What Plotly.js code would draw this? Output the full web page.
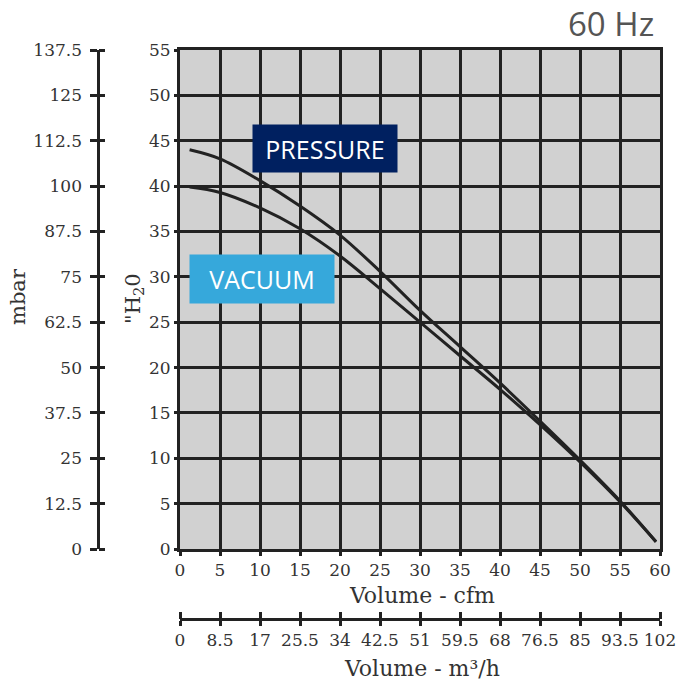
<!DOCTYPE html>
<html>
<head>
<meta charset="utf-8">
<script src="https://cdn.plot.ly/plotly-3.0.1.min.js"></script>
<style>html,body{margin:0;padding:0;background:#fff;}</style>
</head>
<body>
<div id="chart" style="width:678px;height:684px;"></div>
<script>
// Data
const flowCfm = [1.2, 5, 10, 15, 20, 25, 30, 35, 40, 45, 50, 55, 59.5];
const pressureInH2O = [44.0, 43.0, 40.6, 37.8, 34.6, 30.6, 26.3, 22.3, 18.3, 14.1, 9.8, 5.3, 0.8];
const vacuumInH2O = [39.9, 39.3, 37.6, 35.3, 32.3, 28.7, 25.0, 21.3, 17.6, 13.7, 9.6, 5.2, 0.8];

const cfmTicks = [0, 5, 10, 15, 20, 25, 30, 35, 40, 45, 50, 55, 60];
const h2oTicks = [0, 5, 10, 15, 20, 25, 30, 35, 40, 45, 50, 55];
const mbarTicks = [0, 12.5, 25, 37.5, 50, 62.5, 75, 87.5, 100, 112.5, 125, 137.5];
const m3hTicks = [0, 8.5, 17, 25.5, 34, 42.5, 51, 59.5, 68, 76.5, 85, 93.5, 102];

const seriesNames = ['PRESSURE', 'VACUUM'];
const freqLabel = '60 Hz';

const ink = '#222222';
const serif = 'DejaVu Serif';
const tickFont = () => ({family: serif, size: 17, color: '#333333'});

const curve = (y, name) => ({
  x: flowCfm, y: y, name: name, type: 'scatter', mode: 'lines',
  line: {color: ink, width: 3, shape: 'spline', smoothing: 1},
  hoverinfo: 'skip', showlegend: false, xaxis: 'x', yaxis: 'y'
});
const dummy = (xa, ya) => ({x: [null], y: [null], type: 'scatter', mode: 'markers',
  xaxis: xa, yaxis: ya, showlegend: false, hoverinfo: 'skip'});

const traces = [
  curve(pressureInH2O, seriesNames[0]),
  curve(vacuumInH2O, seriesNames[1]),
  dummy('x2', 'y'), dummy('x3', 'y'), dummy('x', 'y2'), dummy('x', 'y3'), dummy('x', 'y4')
];

const W = 660, H = 634; // plot area in px (margin l=0, r=18, t=50, b=0)
const px = v => v / W;
const py = v => (684 - v) / H;

const xDom = [px(180), 1];
const yDom = [py(549), 1];

const bareY = (side, len, line) => ({
  overlaying: 'y', anchor: 'free', position: px(98), side: side,
  range: [0, 137.5], tickvals: mbarTicks, showticklabels: false,
  showgrid: false, zeroline: false, showline: line, linecolor: ink, linewidth: 3,
  ticks: 'outside', ticklen: len, tickwidth: 3, tickcolor: ink, fixedrange: true
});

const layout = {
  width: 678, height: 684,
  margin: {l: 0, r: 18, t: 50, b: 0, pad: 0},
  paper_bgcolor: '#ffffff',
  plot_bgcolor: '#d1d1d1',
  showlegend: false,
  xaxis: {
    domain: xDom, range: [0, 60], tickvals: cfmTicks, ticktext: cfmTicks.map(String),
    showgrid: true, gridcolor: ink, gridwidth: 3, zeroline: false,
    showline: true, linecolor: ink, linewidth: 3, mirror: true,
    ticks: 'outside', ticklen: 4, tickwidth: 3, tickcolor: ink,
    tickfont: tickFont(), fixedrange: true
  },
  yaxis: {
    domain: yDom, range: [0, 55], tickvals: h2oTicks, ticktext: h2oTicks.map(String),
    showgrid: true, gridcolor: ink, gridwidth: 3, zeroline: false,
    showline: true, linecolor: ink, linewidth: 3, mirror: true,
    ticks: 'outside', ticklen: 3, tickwidth: 3, tickcolor: ink,
    tickfont: tickFont(), fixedrange: true
  },
  yaxis2: {
    overlaying: 'y', anchor: 'free', position: px(82), side: 'left',
    range: [0, 137.5], tickvals: mbarTicks, ticktext: mbarTicks.map(String),
    showgrid: false, zeroline: false, showline: false,
    ticks: '', tickfont: tickFont(), fixedrange: true
  },
  yaxis3: bareY('right', 6, false),
  yaxis4: bareY('left', 7, true),
  xaxis2: {
    overlaying: 'x', anchor: 'free', position: py(619), side: 'bottom',
    range: [0, 102], tickvals: m3hTicks, ticktext: m3hTicks.map(String),
    showgrid: false, zeroline: false, showline: true, linecolor: ink, linewidth: 3,
    ticks: 'outside', ticklen: 5, tickwidth: 3, tickcolor: ink,
    tickfont: tickFont(), fixedrange: true
  },
  xaxis3: {
    overlaying: 'x', anchor: 'free', position: py(619), side: 'top',
    range: [0, 102], tickvals: m3hTicks, showticklabels: false,
    showgrid: false, zeroline: false, showline: false,
    ticks: 'outside', ticklen: 7, tickwidth: 3, tickcolor: ink, fixedrange: true
  },
  annotations: [
    {text: 'mbar', xref: 'paper', yref: 'paper', x: px(18), y: py(297), textangle: -90,
     showarrow: false, font: {family: serif, size: 21, color: '#333333'}, xanchor: 'center', yanchor: 'middle'},
    {text: '"H<sub>2</sub>0', xref: 'paper', yref: 'paper', x: px(134), y: py(299), textangle: -90,
     showarrow: false, font: {family: serif, size: 21, color: '#333333'}, xanchor: 'center', yanchor: 'middle'},
    {text: 'Volume - cfm', xref: 'paper', yref: 'paper', x: px(422), y: py(595),
     showarrow: false, font: {family: serif, size: 22, color: '#333333'}, xanchor: 'center', yanchor: 'middle'},
    {text: 'Volume - m³/h', xref: 'paper', yref: 'paper', x: px(422), y: py(668),
     showarrow: false, font: {family: serif, size: 22, color: '#333333'}, xanchor: 'center', yanchor: 'middle'},
    {text: freqLabel, xref: 'paper', yref: 'paper', x: px(656), y: py(23),
     showarrow: false, font: {family: 'Open Sans', size: 33, color: '#555555'}, xanchor: 'right', yanchor: 'middle'},
    {text: seriesNames[0], xref: 'paper', yref: 'paper', x: px(325), y: py(148.5),
     showarrow: false, font: {family: 'Open Sans', size: 25, color: '#ffffff'},
     bgcolor: '#002060', width: 144, height: 47, borderpad: 0, xanchor: 'center', yanchor: 'middle'},
    {text: seriesNames[1], xref: 'paper', yref: 'paper', x: px(262), y: py(279),
     showarrow: false, font: {family: 'Open Sans', size: 25, color: '#ffffff'},
     bgcolor: '#36a8db', width: 144, height: 48, borderpad: 0, xanchor: 'center', yanchor: 'middle'}
  ]
};

Plotly.newPlot('chart', traces, layout, {displayModeBar: false, staticPlot: true});
</script>
</body>
</html>
